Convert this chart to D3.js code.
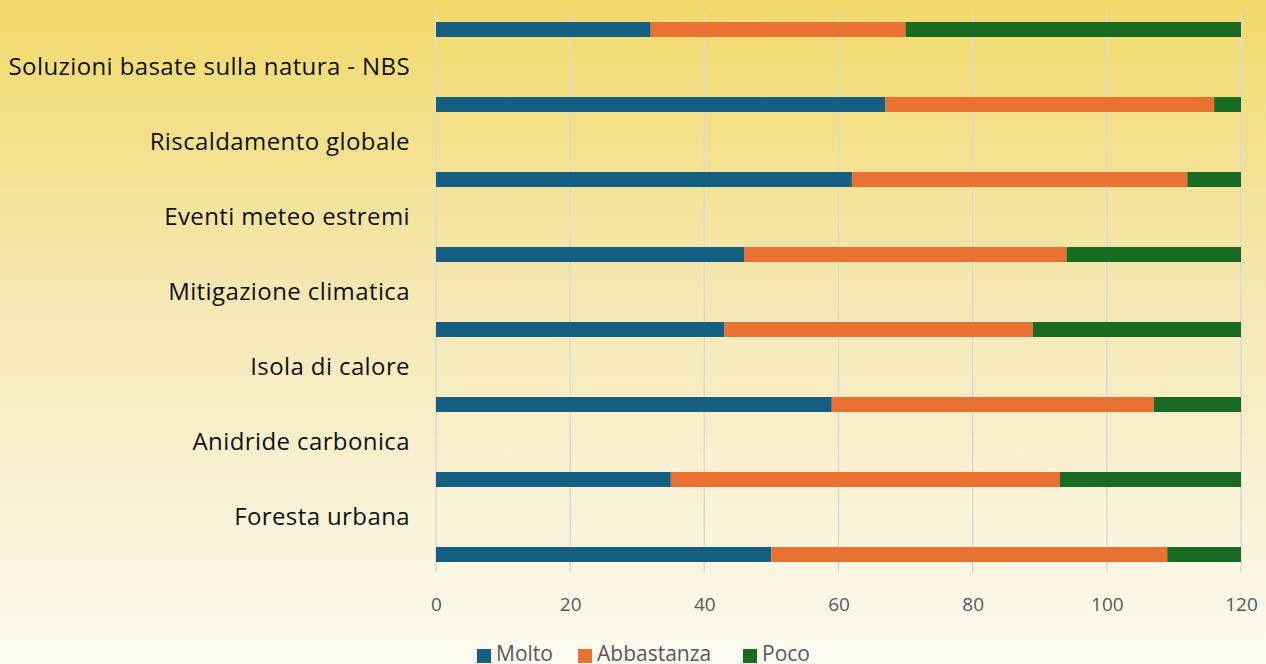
<!DOCTYPE html>
<html>
<head>
<meta charset="utf-8">
<script src="https://cdn.jsdelivr.net/npm/d3@7/dist/d3.min.js"></script>
<style>
  html, body { margin: 0; padding: 0; }
  body { width: 1266px; height: 664px; overflow: hidden; }
  svg { display: block; }
  text { font-family: "Open Sans", "Noto Sans", sans-serif; }
</style>
</head>
<body>
<svg id="chart" width="1266" height="664"></svg>
<script>
// Category labels (drawn between the bars, top to bottom)
const categories = [
  "Soluzioni basate sulla natura - NBS",
  "Riscaldamento globale",
  "Eventi meteo estremi",
  "Mitigazione climatica",
  "Isola di calore",
  "Anidride carbonica",
  "Foresta urbana"
];

// Series values, one entry per bar (top to bottom)
const molto       = [32, 67, 62, 46, 43, 59, 35, 50];
const abbastanza  = [38, 49, 50, 48, 46, 48, 58, 59];
const poco        = [50,  4,  8, 26, 31, 13, 27, 11];

const seriesNames = ["Molto", "Abbastanza", "Poco"];
const seriesColors = ["#156082", "#e97132", "#196b24"];
const xTicks = [0, 20, 40, 60, 80, 100, 120];

const svg = d3.select("#chart");
const W = 1266, H = 664;

// Background gradient
const defs = svg.append("defs");
const grad = defs.append("linearGradient")
  .attr("id", "bg").attr("x1", 0).attr("y1", 0).attr("x2", 0).attr("y2", 1);
grad.append("stop").attr("offset", "0%").attr("stop-color", "#f2da6a");
grad.append("stop").attr("offset", "45%").attr("stop-color", "#f5e8b3");
grad.append("stop").attr("offset", "100%").attr("stop-color", "#fdfbf2");
svg.append("rect").attr("width", W).attr("height", H).attr("fill", "url(#bg)");

const rows = d3.range(molto.length).map(i => ({
  Molto: molto[i], Abbastanza: abbastanza[i], Poco: poco[i], idx: i
}));

const x = d3.scaleLinear().domain([0, 120]).range([436, 1241]);
const y = d3.scaleBand().domain(d3.range(rows.length)).range([-8, 592]).paddingInner(0.8).paddingOuter(0.4);

// Vertical gridlines
svg.append("g").selectAll("line").data(xTicks).join("line")
  .attr("x1", d => x(d)).attr("x2", d => x(d))
  .attr("y1", 12).attr("y2", 572)
  .attr("stroke", "#d9d9d9").attr("stroke-width", 1.5);

// Stacked bars
const stack = d3.stack().keys(seriesNames)(rows);
svg.append("g").selectAll("g").data(stack).join("g")
  .attr("fill", (d, i) => seriesColors[i])
  .selectAll("rect").data(d => d).join("rect")
  .attr("x", d => x(d[0]))
  .attr("width", d => x(d[1]) - x(d[0]))
  .attr("y", d => y(d.data.idx))
  .attr("height", y.bandwidth());

// Category labels, centred between consecutive bars
svg.append("g").selectAll("text").data(categories).join("text")
  .attr("x", 410)
  .attr("y", (d, i) => (y(i) + y(i + 1)) / 2 + y.bandwidth() / 2)
  .attr("dy", "0.35em")
  .attr("text-anchor", "end")
  .attr("font-size", 24)
  .attr("letter-spacing", "0.4px")
  .attr("fill", "#111")
  .text(d => d);

// X axis tick labels
const xAxis = d3.axisBottom(x).tickValues(xTicks).tickSize(0).tickPadding(0);
const gx = svg.append("g").attr("transform", "translate(0,604)").call(xAxis);
gx.select(".domain").remove();
gx.selectAll("text").attr("font-size", 19).attr("fill", "#595959")
  .attr("dy", "0.35em").attr("y", 0)
  .style("font-family", "'Open Sans', 'Noto Sans', sans-serif");

// Legend
const legend = svg.append("g");
const items = [
  { name: "Molto", x: 477 },
  { name: "Abbastanza", x: 578 },
  { name: "Poco", x: 743 }
];
items.forEach((it, i) => {
  legend.append("rect").attr("x", it.x).attr("y", 649).attr("width", 14).attr("height", 14)
    .attr("fill", seriesColors[i]);
  legend.append("text").attr("x", it.x + 19).attr("y", 661)
    .attr("font-size", 21).attr("fill", "#595959").text(it.name);
});
</script>
</body>
</html>
